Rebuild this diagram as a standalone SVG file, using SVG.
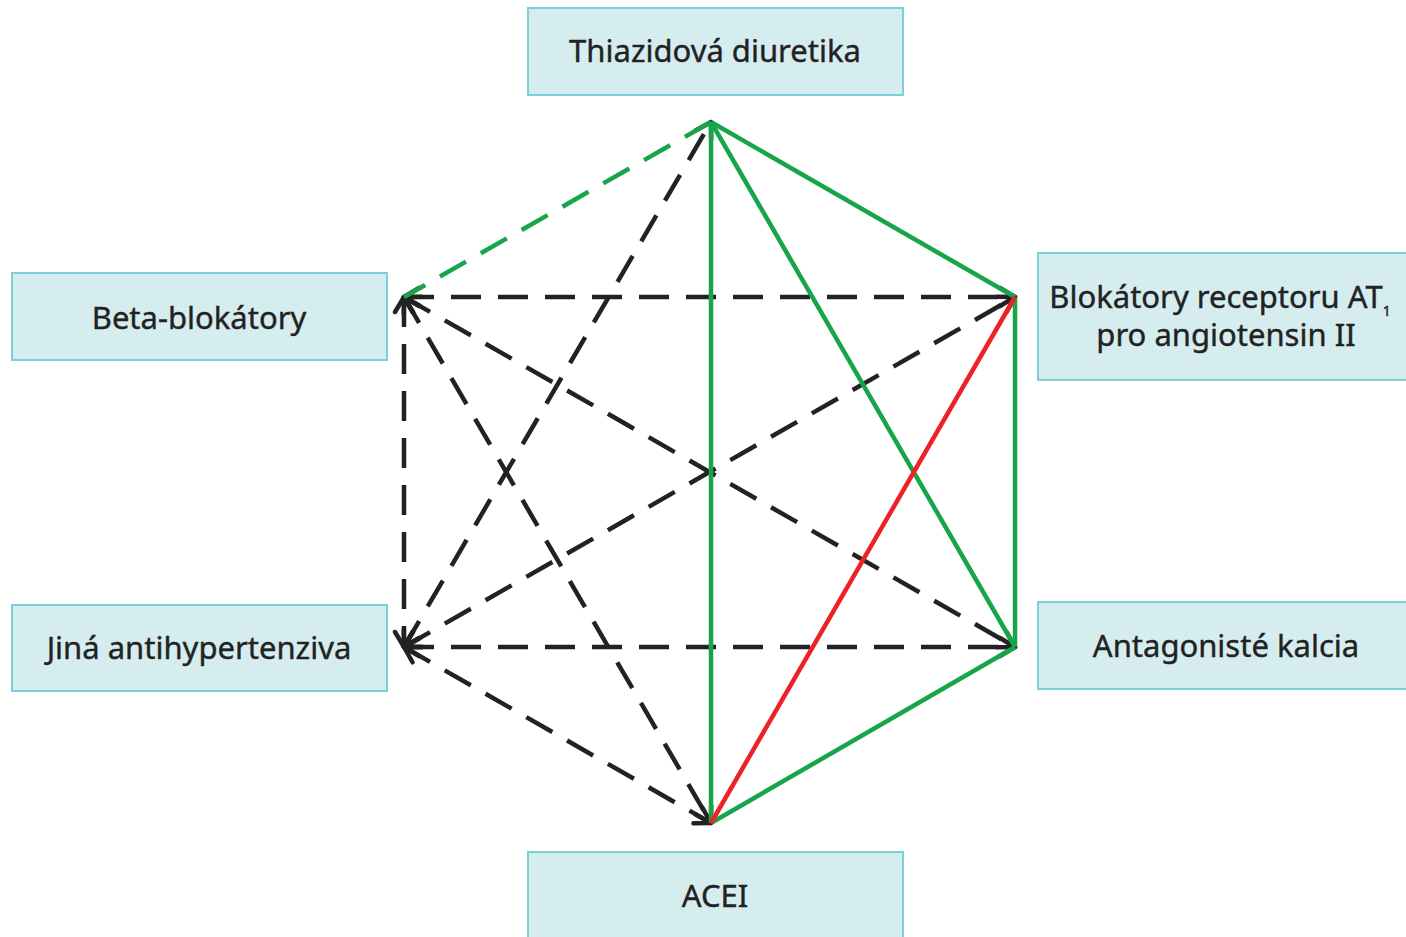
<svg xmlns="http://www.w3.org/2000/svg" width="1406" height="937" viewBox="0 0 1406 937">
<style>
.box{fill:#d6edf0;stroke:#7cd0dc;stroke-width:2}
.lbl{font-family:"Noto Sans","Open Sans",sans-serif;font-size:31px;fill:#222;text-anchor:middle;stroke:#222;stroke-width:0.4}
.g{stroke:#17a54a;stroke-width:4.5;fill:none}
.r{stroke:#ec2227;stroke-width:4.5;fill:none}
.d{stroke:#222;stroke-width:4.5;fill:none;stroke-dasharray:30 17;marker-start:url(#ah);marker-end:url(#ah)}
.gd{stroke:#17a54a;stroke-width:4.5;fill:none;stroke-dasharray:30 17}
</style>
<defs>
<marker id="ah" markerUnits="userSpaceOnUse" viewBox="-20 -12 24 24" refX="0" refY="0" markerWidth="24" markerHeight="24" orient="auto-start-reverse">
<path d="M-15,-9 L0,0 L-15,9" fill="none" stroke="#222" stroke-width="4.5" stroke-linecap="round" stroke-linejoin="round"/>
</marker>
</defs>
<rect width="1406" height="937" fill="#fff"/>
<g id="connectors">
<line class="d" x1="404" y1="297" x2="1015" y2="297"/>
<line class="d" x1="404" y1="297" x2="1015" y2="647"/>
<line class="d" x1="404" y1="297" x2="404" y2="647"/>
<line class="d" x1="404" y1="297" x2="711" y2="823"/>
<line class="d" x1="404" y1="647" x2="711" y2="122"/>
<line class="d" x1="404" y1="647" x2="1015" y2="297"/>
<line class="d" x1="404" y1="647" x2="1015" y2="647"/>
<line class="d" x1="404" y1="647" x2="711" y2="823"/>
<line class="gd" x1="711" y1="122" x2="404" y2="297"/>
<line class="g" x1="711" y1="122" x2="1015" y2="297"/>
<line class="g" x1="711" y1="122" x2="1015" y2="647"/>
<line class="g" x1="711" y1="122" x2="711" y2="823"/>
<line class="g" x1="1015" y1="297" x2="1015" y2="647"/>
<line class="g" x1="1015" y1="647" x2="711" y2="823"/>
<line class="r" x1="1015" y1="297" x2="711" y2="823"/>
</g>
<g id="thiazid"><rect class="box" x="528" y="8" width="375" height="87"/><text class="lbl" x="715" y="62">Thiazidová diuretika</text></g>
<g id="beta"><rect class="box" x="12" y="273" width="375" height="87"/><text class="lbl" x="199" y="329">Beta-blokátory</text></g>
<g id="arb"><rect class="box" x="1038" y="253" width="380" height="127"/><text class="lbl" x="1220" y="308">Blokátory receptoru AT<tspan font-size="14" dy="8">1</tspan></text><text class="lbl" x="1226" y="346">pro angiotensin II</text></g>
<g id="jina"><rect class="box" x="12" y="605" width="375" height="86"/><text class="lbl" x="199" y="659">Jiná antihypertenziva</text></g>
<g id="ca"><rect class="box" x="1038" y="602" width="380" height="87"/><text class="lbl" x="1226" y="657">Antagonisté kalcia</text></g>
<g id="acei"><rect class="box" x="528" y="852" width="375" height="95"/><text class="lbl" x="715" y="907">ACEI</text></g>
</svg>
